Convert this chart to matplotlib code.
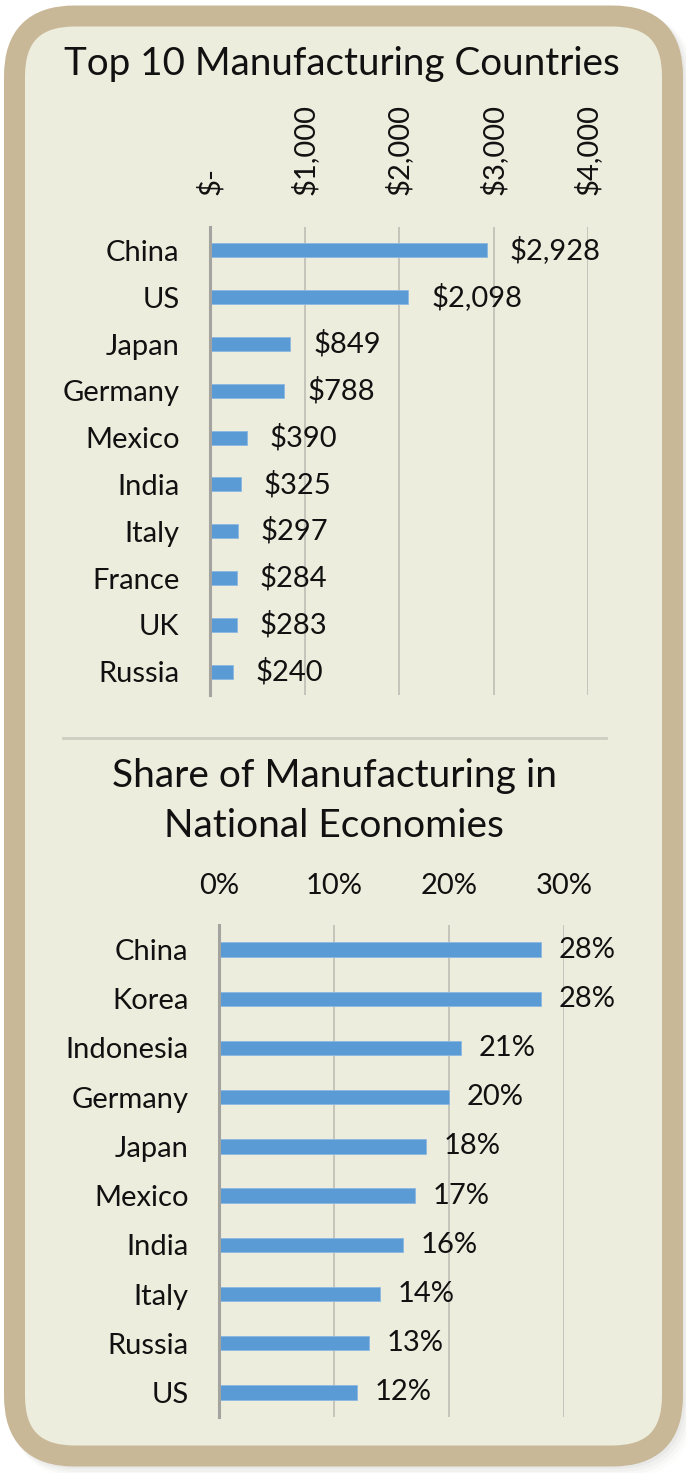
import matplotlib
matplotlib.use("Agg")
import matplotlib.pyplot as plt
from matplotlib.patches import FancyBboxPatch
from matplotlib.lines import Line2D
from matplotlib.ticker import FixedLocator, FuncFormatter

plt.rcParams['font.family'] = ['Lato', 'DejaVu Sans']

# ---- data ----
top_countries = ["China", "US", "Japan", "Germany", "Mexico", "India", "Italy", "France", "UK", "Russia"]
top_output = [2928, 2098, 849, 788, 390, 325, 297, 284, 283, 240]   # $ billions
top_ticks = [0, 1000, 2000, 3000, 4000]

share_countries = ["China", "Korea", "Indonesia", "Germany", "Japan", "Mexico", "India", "Italy", "Russia", "US"]
share_pct = [28, 28, 21, 20, 18, 17, 16, 14, 13, 12]
share_ticks = [0, 10, 20, 30]

# ---- styling ----
W, H, DPI = 686, 1473, 100
TAN = "#C9B897"
CREAM = "#EDEDDD"
BAR = "#5B9BD5"
GRID = "#BDBDB5"
AXIS = "#A3A3A0"
TXT = "#111111"
FS = 21
TITLE_FS = 27.8

fig = plt.figure(figsize=(W / DPI, H / DPI), dpi=DPI)
fig.patch.set_facecolor("white")


def fx(px):
    return px / W


def fy(py):
    return 1 - py / H


# soft drop shadow behind the card
for i, a in enumerate([0.05, 0.04, 0.03, 0.02]):
    off = 3 + i * 2
    sh = FancyBboxPatch((fx(14.5 + off), fy(1456 + off)), fx(658), 1440 / H,
                        boxstyle=f"round,pad=0,rounding_size={fx(60)}",
                        transform=fig.transFigure, facecolor="none",
                        edgecolor="#707060", linewidth=(20 + 2 * i) * 72 / DPI,
                        alpha=a, mutation_aspect=W / H, zorder=0)
    fig.add_artist(sh)

# card with thick rounded tan border
card = FancyBboxPatch((fx(14.5), fy(1456)), fx(658), 1440 / H,
                      boxstyle=f"round,pad=0,rounding_size={fx(60)}",
                      transform=fig.transFigure, facecolor=CREAM,
                      edgecolor=TAN, linewidth=21 * 72 / DPI,
                      mutation_aspect=W / H, zorder=1)
fig.add_artist(card)


def style_axes(ax):
    ax.set_facecolor("none")
    for s in ("top", "right", "bottom"):
        ax.spines[s].set_visible(False)
    ax.spines["left"].set_color(AXIS)
    ax.spines["left"].set_linewidth(2.2)
    ax.spines["left"].set_zorder(4)
    ax.grid(axis="x", color=GRID, linewidth=1.2)
    ax.set_axisbelow(True)
    ax.xaxis.tick_top()
    ax.tick_params(axis="both", length=0, colors=TXT, labelsize=FS)
    ax.tick_params(axis="y", pad=22)


# ---- chart 1: manufacturing output ----
ax1 = fig.add_axes([fx(210), fy(695), fx(588 - 210), (695 - 227) / H], zorder=2)
style_axes(ax1)
y1 = list(range(len(top_countries)))
ax1.barh(y1, top_output, height=0.30, color=BAR, edgecolor="#8DB8E2", linewidth=0.6, zorder=3)
ax1.set_xlim(top_ticks[0], top_ticks[-1])
ax1.set_ylim(len(top_countries) - 0.5, -0.5)
ax1.set_yticks(y1)
ax1.set_yticklabels(top_countries)
ax1.xaxis.set_major_locator(FixedLocator(top_ticks))
ax1.xaxis.set_major_formatter(FuncFormatter(lambda v, p: "$-" if v == 0 else f"${v:,.0f}"))
ax1.tick_params(axis="x", labelrotation=90, pad=23)
for yy, v in zip(y1, top_output):
    ax1.annotate(f"${v:,}", (v, yy), xytext=(16.5, 0), textcoords="offset points",
                 ha="left", va="center", fontsize=FS, color=TXT, clip_on=False)

fig.text(fx(342), fy(75), "Top 10 Manufacturing Countries", ha="center", va="baseline",
         fontsize=TITLE_FS, color=TXT, zorder=5)

# divider between the two charts
fig.add_artist(Line2D([fx(63), fx(606)], [fy(738), fy(738)], transform=fig.transFigure,
                      color="#CDCDC2", linewidth=2.0, zorder=5))

# ---- chart 2: share of GDP ----
ax2 = fig.add_axes([fx(219), fy(1417), fx(564 - 219), (1417 - 925) / H], zorder=2)
style_axes(ax2)
y2 = list(range(len(share_countries)))
ax2.barh(y2, share_pct, height=0.29, color=BAR, edgecolor="#8DB8E2", linewidth=0.6, zorder=3)
ax2.set_xlim(share_ticks[0], share_ticks[-1])
ax2.set_ylim(len(share_countries) - 0.5, -0.5)
ax2.set_yticks(y2)
ax2.set_yticklabels(share_countries)
ax2.xaxis.set_major_locator(FixedLocator(share_ticks))
ax2.xaxis.set_major_formatter(FuncFormatter(lambda v, p: f"{v:.0f}%"))
ax2.tick_params(axis="x", pad=19)
for yy, v in zip(y2, share_pct):
    ax2.annotate(f"{v}%", (v, yy), xytext=(13, 0), textcoords="offset points",
                 ha="left", va="center", fontsize=FS, color=TXT, clip_on=False)

fig.text(fx(334), fy(787), "Share of Manufacturing in", ha="center", va="baseline",
         fontsize=28, color=TXT, zorder=5)
fig.text(fx(334), fy(837), "National Economies", ha="center", va="baseline",
         fontsize=28, color=TXT, zorder=5)

fig.savefig("out.png", dpi=DPI, facecolor=fig.get_facecolor())
